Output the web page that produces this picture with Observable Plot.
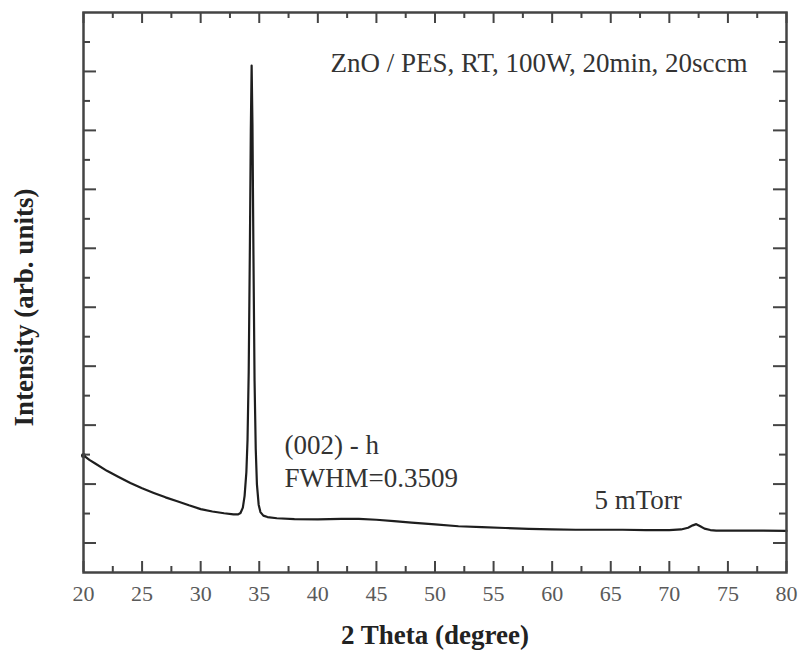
<!DOCTYPE html>
<html>
<head>
<meta charset="utf-8">
<script src="https://cdn.jsdelivr.net/npm/d3@7"></script>
<script src="https://cdn.jsdelivr.net/npm/@observablehq/plot@0.6"></script>
<style>
  html, body { margin: 0; padding: 0; background: #fff; }
</style>
</head>
<body>
<div id="chart"></div>
<script>
// ---- data ----
const twoTheta = [20.0, 20.5, 21, 22, 23, 24, 25, 26, 27, 28,
  29, 30, 31, 32, 32.8, 33.2, 33.4, 33.6, 33.75, 33.9,
  34.0, 34.1, 34.2, 34.28, 34.35, 34.42, 34.5, 34.6, 34.7, 34.8,
  34.95, 35.1, 35.35, 35.7, 36.5, 38, 40, 42, 43.5, 45,
  46.5, 48, 50, 52, 54, 56, 58, 60, 62, 64,
  66, 68, 70, 71.0, 71.6, 72.0, 72.3, 72.6, 73.0, 73.5,
  74, 76, 78, 80];
const intensity = [3.97, 3.82, 3.70, 3.45, 3.24, 3.04, 2.86, 2.70, 2.55, 2.42,
  2.28, 2.15, 2.07, 2.01, 1.97, 1.97, 2.02, 2.2, 2.6, 3.4,
  4.5, 6.8, 11.0, 15.0, 17.2, 15.2, 11.0, 6.5, 4.2, 3.0,
  2.3, 2.05, 1.93, 1.88, 1.84, 1.81, 1.80, 1.82, 1.82, 1.79,
  1.74, 1.69, 1.63, 1.57, 1.54, 1.51, 1.48, 1.46, 1.45, 1.45,
  1.45, 1.44, 1.44, 1.46, 1.52, 1.60, 1.64, 1.58, 1.49, 1.44,
  1.42, 1.42, 1.42, 1.41];
const xMajorTicks = [20, 25, 30, 35, 40, 45, 50, 55, 60, 65, 70, 75, 80];
const xMinorTicks = [22.5, 27.5, 32.5, 37.5, 42.5, 47.5, 52.5, 57.5, 62.5, 67.5, 72.5, 77.5];
const yMajorTicks = [1, 3, 5, 7, 9, 11, 13, 15, 17];
const yMinorTicks = [2, 4, 6, 8, 10, 12, 14, 16, 18];
const titleText = "ZnO / PES, RT, 100W, 20min, 20sccm";
const peakLabel = "(002) - h";
const fwhmLabel = "FWHM=0.3509";
const pressureLabel = "5 mTorr";
const xTitle = "2 Theta (degree)";
const yTitle = "Intensity (arb. units)";

const points = twoTheta.map((t, i) => ({t, i: intensity[i]}));

// ---- layout ----
const W = 798, H = 651, mL = 83, mR = 12, mT = 12, mB = 79;
const fw = W - mL - mR, fh = H - mT - mB;
const ink = "#444";
const serif = "'Liberation Serif', 'Times New Roman', Times, serif";

const chart = Plot.plot({
  width: W, height: H,
  marginLeft: mL, marginRight: mR, marginTop: mT, marginBottom: mB,
  x: {domain: [20, 80], axis: null},
  y: {domain: [0, 19], axis: null},
  style: {fontFamily: serif, background: "#fff", overflow: "visible"},
  marks: [
    Plot.line(points, {x: "t", y: "i", stroke: "#1e1e1e", strokeWidth: 2.2}),
    Plot.dot(points.slice(0, 1), {x: "t", y: "i", r: 2.5, fill: "#1e1e1e"}),
    // inward ticks: bottom, top, left, right
    Plot.tickX(xMajorTicks, {x: d => d, insetTop: fh - 11, stroke: ink, strokeWidth: 2}),
    Plot.tickX(xMinorTicks, {x: d => d, insetTop: fh - 6, stroke: ink, strokeWidth: 2}),
    Plot.tickX(xMajorTicks, {x: d => d, insetBottom: fh - 11, stroke: ink, strokeWidth: 2}),
    Plot.tickX(xMinorTicks, {x: d => d, insetBottom: fh - 6, stroke: ink, strokeWidth: 2}),
    Plot.tickY(yMajorTicks, {y: d => d, insetRight: fw - 13, stroke: ink, strokeWidth: 2}),
    Plot.tickY(yMinorTicks, {y: d => d, insetRight: fw - 7, stroke: ink, strokeWidth: 2}),
    Plot.tickY(yMajorTicks, {y: d => d, insetLeft: fw - 13, stroke: ink, strokeWidth: 2}),
    Plot.tickY(yMinorTicks, {y: d => d, insetLeft: fw - 7, stroke: ink, strokeWidth: 2}),
    Plot.frame({stroke: ink, strokeWidth: 2.5}),
    // tick labels
    Plot.text(xMajorTicks, {x: d => d, text: d => String(d), frameAnchor: "bottom", dy: 21,
      lineAnchor: "middle", fontSize: 22, fill: "#5a5a5a", fontFamily: serif}),
    // axis titles
    Plot.text([xTitle], {text: d => d, frameAnchor: "bottom", dy: 63, lineAnchor: "middle",
      fontSize: 27, fontWeight: "bold", fill: "#222", fontFamily: serif}),
    Plot.text([yTitle], {text: d => d, frameAnchor: "left", dx: -59, dy: 15, rotate: -90,
      lineAnchor: "middle", textAnchor: "middle", fontSize: 27, fontWeight: "bold", fill: "#222", fontFamily: serif}),
    // annotations
    Plot.text([titleText], {text: d => d, x: 76.67, y: 17.27, textAnchor: "end", lineAnchor: "middle",
      fontSize: 27, fill: "#333", fontFamily: serif}),
    Plot.text([peakLabel], {text: d => d, x: 37.15, y: 4.31, textAnchor: "start", lineAnchor: "middle",
      fontSize: 27, fill: "#333", fontFamily: serif}),
    Plot.text([fwhmLabel], {text: d => d, x: 37.15, y: 3.19, textAnchor: "start", lineAnchor: "middle",
      fontSize: 27, fill: "#333", fontFamily: serif}),
    Plot.text([pressureLabel], {text: d => d, x: 63.61, y: 2.44, textAnchor: "start", lineAnchor: "middle",
      fontSize: 27, fill: "#333", fontFamily: serif})
  ]
});
document.getElementById("chart").appendChild(chart);
</script>
</body>
</html>
